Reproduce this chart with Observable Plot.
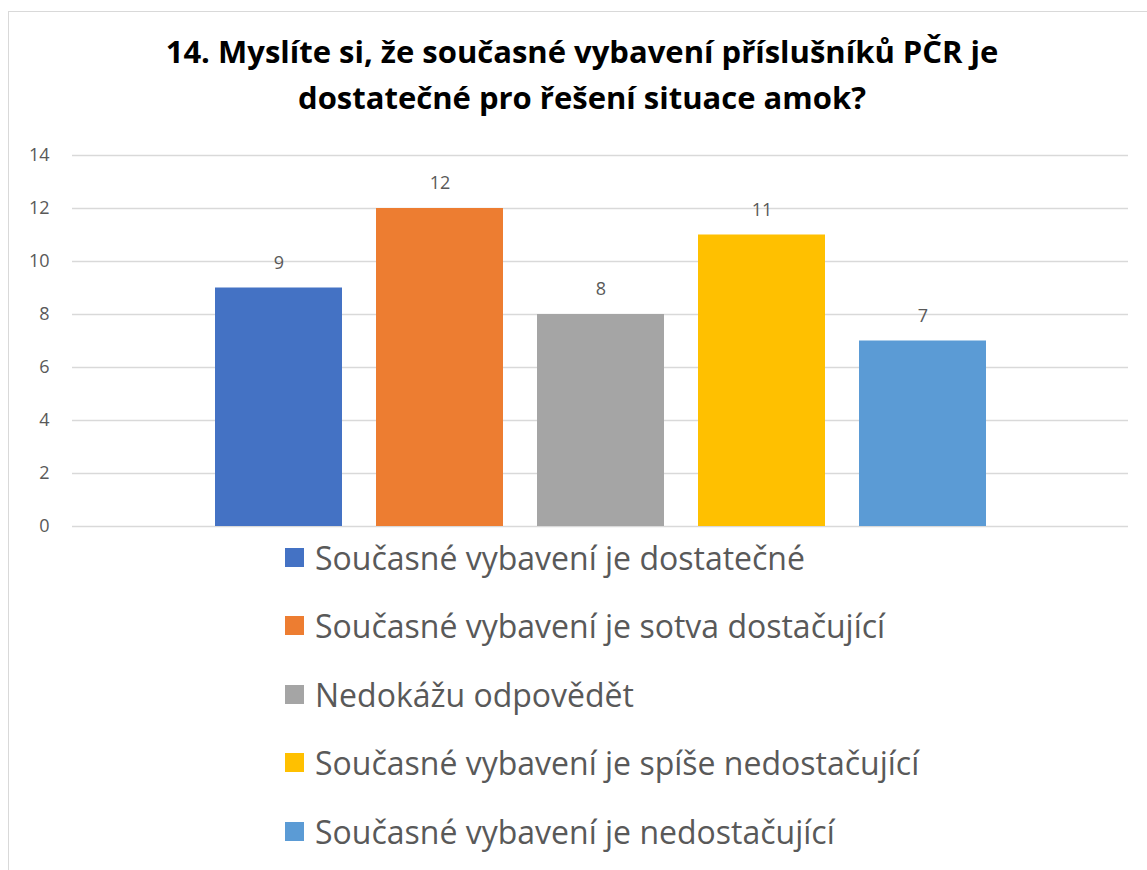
<!DOCTYPE html>
<html><head><meta charset="utf-8">
<script src="https://cdn.jsdelivr.net/npm/d3@7"></script>
<script src="https://cdn.jsdelivr.net/npm/@observablehq/plot@0.6"></script>
<style>
body{margin:0;background:#fff;font-family:"Open Sans",Lato,sans-serif;}
#wrap{position:relative;width:1147px;height:870px;overflow:hidden;background:#fff;}
#frame{position:absolute;left:8px;top:11px;width:1200px;height:900px;border-left:1.5px solid #d9d9d9;border-top:1.5px solid #d9d9d9;}
#title{position:absolute;left:0;width:1164px;top:28px;text-align:center;font-weight:bold;font-size:31px;line-height:46px;color:#000;}
#chart{position:absolute;left:0;top:130px;}
#legend{position:absolute;left:285px;top:523px;}
.item{display:flex;align-items:center;height:68.5px;font-size:32px;color:#595959;white-space:nowrap;}
.sw{width:19px;height:19px;margin-right:11px;flex:none;}
</style>
</head><body>
<div id="wrap">
  <div id="frame"></div>
  <div id="title"></div>
  <div id="chart"></div>
  <div id="legend"></div>
</div>
<script>
const titleLines = ["14. Myslíte si, že současné vybavení příslušníků PČR je", "dostatečné pro řešení situace amok?"];
const categories = [
  "Současné vybavení je dostatečné",
  "Současné vybavení je sotva dostačující",
  "Nedokážu odpovědět",
  "Současné vybavení je spíše nedostačující",
  "Současné vybavení je nedostačující"
];
const values = [9, 12, 8, 11, 7];
const colors = ["#4472C4", "#ED7D31", "#A5A5A5", "#FFC000", "#5B9BD5"];
const yTicks = [0, 2, 4, 6, 8, 10, 12, 14];

const data = categories.map((c, i) => ({category: c, value: values[i]}));

document.getElementById("title").innerHTML = titleLines.map(t => `<div>${t}</div>`).join("");

const chart = Plot.plot({
  width: 1147,
  height: 410,
  marginTop: 25,
  marginBottom: 14,
  marginLeft: 72,
  marginRight: 19,
  style: {fontFamily: "'Open Sans', Lato, sans-serif", fontSize: "18px", color: "#595959", background: "transparent", overflow: "visible"},
  x: {domain: categories, paddingInner: 0.213, paddingOuter: 0.866, align: 0.5, axis: null},
  y: {domain: [0, 14]},
  color: {domain: categories, range: colors},
  marks: [
    Plot.ruleY(yTicks, {stroke: "#d9d9d9", strokeWidth: 1.5}),
    Plot.axisY(yTicks, {tickSize: 0, tickPadding: 23, fontSize: 18, fill: "#595959", label: null}),
    Plot.barY(data, {x: "category", y: "value", fill: "category"}),
    Plot.text(data, {x: "category", y: "value", text: d => String(d.value), dy: -25, fill: "#595959", fontSize: 18})
  ]
});
document.getElementById("chart").appendChild(chart);

const legend = document.getElementById("legend");
categories.forEach((c, i) => {
  const item = document.createElement("div");
  item.className = "item";
  item.innerHTML = `<span class="sw" style="background:${colors[i]}"></span><span>${c}</span>`;
  legend.appendChild(item);
});
</script>
</body></html>
